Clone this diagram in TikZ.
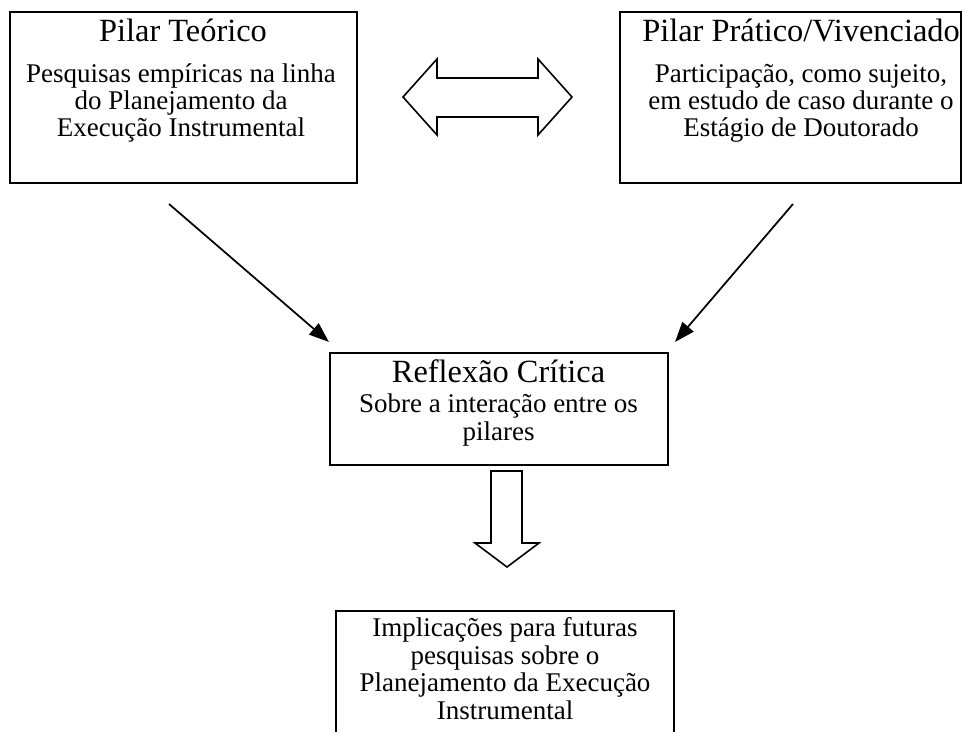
\documentclass[tikz,border=0pt]{standalone}
\usepackage{fontspec}
\setmainfont{Liberation Serif}
\usetikzlibrary{arrows.meta}
\begin{document}
\begin{tikzpicture}[x=0.75pt,y=-0.75pt,
  box/.style={draw, line width=1.6pt, inner sep=0pt},
  ttl/.style={inner sep=0pt, anchor=base, font=\fontsize{24.3pt}{29pt}\selectfont},
  bod/.style={inner sep=0pt, anchor=base, align=center, font=\fontsize{20.25pt}{20.6pt}\selectfont},
  conn/.style={line width=1.3pt, -{Triangle[length=15pt,width=11pt]}},
  blk/.style={draw, line width=1.2pt, line join=miter, fill=white}]
\useasboundingbox (0,0) rectangle (962,731);
\clip (0,0) rectangle (962,731);
% boxes
\node[box, minimum width=260.25pt, minimum height=128.25pt] (lt) at (183.5,97.5) {};
\node[box, minimum width=255.75pt, minimum height=128.25pt] (rp) at (790.5,97.5) {};
\node[box, minimum width=253.5pt, minimum height=84pt] (rc) at (499,409) {};
\node[box, minimum width=253.5pt, minimum height=101.25pt] (im) at (505,678.5) {};
% texts (body nodes anchored at the baseline of their last line)
\node[ttl] (ltt) at (183,42) {Pilar Teórico};
\node[bod] (ltb) at (181,137) {Pesquisas empíricas na linha\\do Planejamento da\\Execução Instrumental};
\node[ttl] (rpt) at (801,42) {Pilar Prático/Vivenciado};
\node[bod] (rpb) at (801,137) {Participação, como sujeito,\\em estudo de caso durante o\\Estágio de Doutorado};
\node[ttl] (rct) at (498.5,382) {Reflexão Crítica};
\node[bod] (rcb) at (498.5,440) {Sobre a interação entre os\\pilares};
\node[bod] (imb) at (505,719) {Implicações para futuras\\pesquisas sobre o\\Planejamento da Execução\\Instrumental};
% double block arrow
\draw[blk] (403,97) -- (437,59) -- (437,78) -- (538,78) -- (538,59) -- (572,97)
  -- (538,135) -- (538,117) -- (437,117) -- (437,135) -- cycle;
% down block arrow
\draw[blk] (491,471) -- (522,471) -- (522,543) -- (539,543) -- (507,567)
  -- (475,543) -- (491,543) -- cycle;
% connectors
\coordinate (s1) at (169,204);
\coordinate (s2) at (793,204);
\draw[conn] (s1) -- ([yshift=7.5pt]rc.north west);
\draw[conn] (s2) -- ([xshift=4.5pt,yshift=7.5pt]rc.north east);
\end{tikzpicture}
\end{document}
